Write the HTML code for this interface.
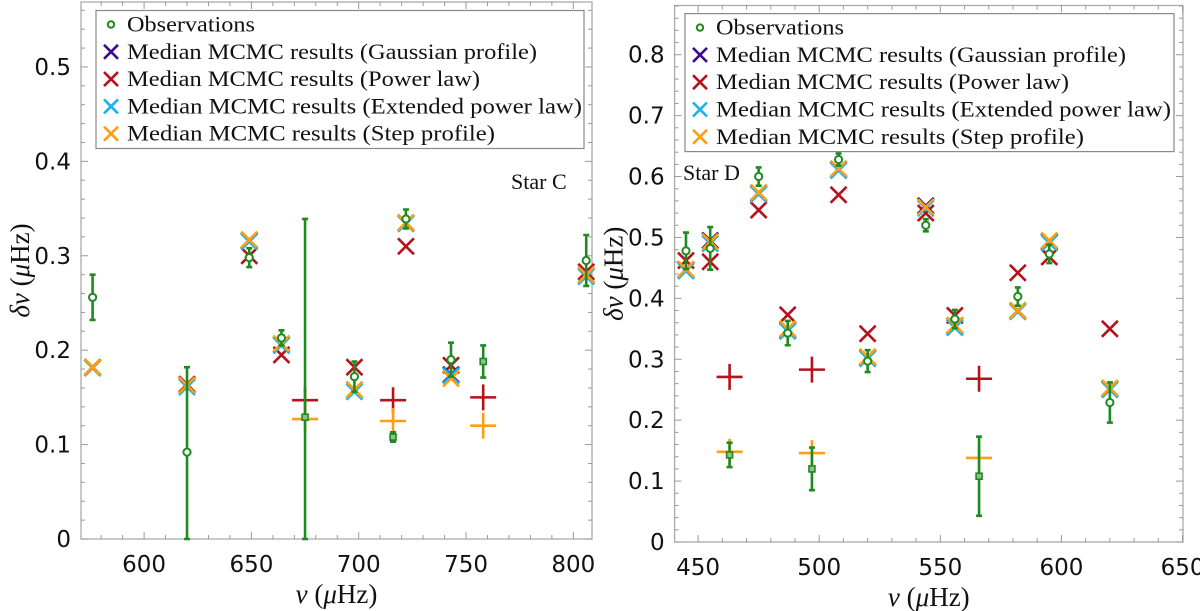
<!DOCTYPE html>
<html><head><meta charset="utf-8"><style>
body{margin:0;background:#fff;width:1200px;height:611px;overflow:hidden}
svg{display:block}
</style></head><body>
<svg id="fig" width="1200" height="611" xmlns="http://www.w3.org/2000/svg"></svg>
<script>
// ===== Star C data =====
const cObsCircX = [576, 620, 649, 664, 698, 722, 743, 806];
const cObsCircY = [0.256, 0.092, 0.298, 0.213, 0.172, 0.339, 0.190, 0.295];
const cObsCircLo = [0.232, 0.0, 0.288, 0.205, 0.156, 0.329, 0.172, 0.268];
const cObsCircHi = [0.280, 0.182, 0.308, 0.221, 0.188, 0.349, 0.208, 0.322];
const cObsSqX = [675, 716, 758];
const cObsSqY = [0.129, 0.108, 0.188];
const cObsSqLo = [0.0, 0.103, 0.171];
const cObsSqHi = [0.339, 0.113, 0.205];
const cXnu = [576, 620, 649, 664, 698, 722, 743, 806];
const cGauss = [0.182, 0.163, 0.316, 0.206, 0.158, 0.335, 0.174, 0.280];
const cPow = [0.182, 0.164, 0.300, 0.195, 0.182, 0.310, 0.184, 0.283];
const cExt = [0.181, 0.161, 0.315, 0.205, 0.156, 0.334, 0.173, 0.278];
const cStep = [0.182, 0.163, 0.317, 0.207, 0.158, 0.335, 0.170, 0.280];
const cPlusX = [675, 716, 758];
const cPlusPow = [0.147, 0.147, 0.150];
const cPlusStep = [0.127, 0.125, 0.120];
const cYTicks = [0, 0.1, 0.2, 0.3, 0.4, 0.5];
const cXTicks = [600, 650, 700, 750, 800];

// ===== Star D data =====
const dObsCircX = [445, 455, 475, 487, 508, 520, 544, 556, 582, 595, 620];
const dObsCircY = [0.478, 0.482, 0.600, 0.343, 0.628, 0.297, 0.520, 0.366, 0.403, 0.473, 0.229];
const dObsCircLo = [0.448, 0.447, 0.585, 0.323, 0.618, 0.279, 0.510, 0.351, 0.388, 0.458, 0.196];
const dObsCircHi = [0.508, 0.517, 0.615, 0.363, 0.638, 0.315, 0.530, 0.381, 0.418, 0.488, 0.262];
const dObsSqX = [463, 497, 566];
const dObsSqY = [0.143, 0.120, 0.108];
const dObsSqLo = [0.123, 0.085, 0.043];
const dObsSqHi = [0.163, 0.155, 0.173];
const dXnu = [445, 455, 475, 487, 508, 520, 544, 556, 582, 595, 620];
const dGauss = [0.447, 0.495, 0.573, 0.348, 0.612, 0.303, 0.552, 0.355, 0.380, 0.493, 0.252];
const dPow = [0.462, 0.460, 0.545, 0.373, 0.570, 0.342, 0.540, 0.372, 0.442, 0.468, 0.350];
const dExt = [0.445, 0.490, 0.571, 0.346, 0.610, 0.301, 0.548, 0.352, 0.378, 0.491, 0.250];
const dStep = [0.448, 0.493, 0.574, 0.350, 0.613, 0.304, 0.550, 0.356, 0.380, 0.495, 0.253];
const dPlusX = [463, 497, 566];
const dPlusPow = [0.271, 0.283, 0.268];
const dPlusStep = [0.148, 0.146, 0.138];
const dYTicks = [0, 0.1, 0.2, 0.3, 0.4, 0.5, 0.6, 0.7, 0.8];
const dXTicks = [450, 500, 550, 600, 650];

const legendLabels = ["Observations","Median MCMC results (Gaussian profile)","Median MCMC results (Power law)","Median MCMC results (Extended power law)","Median MCMC results (Step profile)"];
const COL = {obs:"#1f8a1f", gauss:"#3d0a91", pow:"#b5121b", ext:"#14b4f0", step:"#ff9f0f"};

const NS="http://www.w3.org/2000/svg";
const fig=document.getElementById('fig');
function mk(tag,attrs,parent){const e=document.createElementNS(NS,tag);for(const k in attrs)e.setAttribute(k,attrs[k]);(parent||fig).appendChild(e);return e;}

function panel(cfg){
  const g=mk('g',{});
  
  
  const X=v=>cfg.x0+(v-cfg.xmin)/(cfg.xmax-cfg.xmin)*(cfg.x1-cfg.x0);
  const Y=v=>cfg.yb+(v-cfg.ymin)/(cfg.ymax-cfg.ymin)*(cfg.yt-cfg.yb);
  const fr=mk('rect',{x:cfg.x0,y:cfg.yt,width:cfg.x1-cfg.x0,height:cfg.yb-cfg.yt,fill:'none',stroke:'#aaa','stroke-width':1.3},g);
  
  
  const ystep=cfg.yTicks[1]-cfg.yTicks[0];
  for(let v=cfg.ymin; v<=cfg.ymax+1e-9; v+=ystep/5){
    const maj=Math.abs(v/ystep-Math.round(v/ystep))<1e-6; const L=maj?7:4; const y=Y(v);
    mk('line',{x1:cfg.x0,x2:cfg.x0+L,y1:y,y2:y,stroke:'#999','stroke-width':1},g);
    mk('line',{x1:cfg.x1,x2:cfg.x1-L,y1:y,y2:y,stroke:'#999','stroke-width':1},g);
  }
  cfg.yTicks.forEach(v=>{const t=mk('text',{x:cfg.x0-10,y:Y(v)+8,'text-anchor':'end','font-family':'DejaVu Sans, Liberation Sans, sans-serif','font-size':23,fill:'#111'},g);t.textContent=String(v);
    
    });
  const xstep=cfg.xTicks[1]-cfg.xTicks[0];
  for(let v=Math.ceil(cfg.xmin/(xstep/5))*(xstep/5); v<=cfg.xmax; v+=xstep/5){
    const maj=Math.abs(v/xstep-Math.round(v/xstep))<1e-6; const L=maj?7:4; const x=X(v);
    mk('line',{x1:x,x2:x,y1:cfg.yb,y2:cfg.yb-L,stroke:'#999','stroke-width':1},g);
    mk('line',{x1:x,x2:x,y1:cfg.yt,y2:cfg.yt+L,stroke:'#999','stroke-width':1},g);
  }
  cfg.xTicks.forEach(v=>{const t=mk('text',{x:X(v),y:cfg.yb+33,'text-anchor':'middle','font-family':'DejaVu Sans, Liberation Sans, sans-serif','font-size':23,fill:'#111'},g);t.textContent=String(v);
    
    });
  const xt=mk('text',{x:(cfg.x0+cfg.x1)/2,y:cfg.yb+64,'text-anchor':'middle','font-family':'Liberation Serif, serif','font-size':27,fill:'#111'},g);
  xt.innerHTML='<tspan font-style="italic">ν</tspan> (<tspan font-style="italic">μ</tspan>Hz)';
  
  
  const yc=(cfg.yt+cfg.yb)/2;
  const yt=mk('text',{x:0,y:0,'text-anchor':'middle','font-family':'Liberation Serif, serif','font-size':27,fill:'#111',transform:`translate(${cfg.x0-52},${yc}) rotate(-90)`},g);
  yt.innerHTML='<tspan font-style="italic">δν</tspan> (<tspan font-style="italic">μ</tspan>Hz)';
  
  
  const sl=mk('text',{x:cfg.starX,y:cfg.starY,'font-family':'Liberation Serif, serif','font-size':22,fill:'#111'},g);
  sl.textContent=cfg.star;
  
  

  const cross=(x,y,c,nm)=>{const s=8;const p=mk('path',{d:`M${x-s},${y-s}L${x+s},${y+s}M${x-s},${y+s}L${x+s},${y-s}`,stroke:c,'stroke-width':2.6,fill:'none'},g);
    
    };
  const plus=(x,y,c,nm)=>{const s=13;const p=mk('path',{d:`M${x-s},${y}L${x+s},${y}M${x},${y-s}L${x},${y+s}`,stroke:c,'stroke-width':2.6,fill:'none'},g);
    
    };
  cfg.plusX.forEach((n,i)=>{plus(X(n),Y(cfg.plusPow[i]),COL.pow,'plus-power-law');plus(X(n),Y(cfg.plusStep[i]),COL.step,'plus-step-profile');});
  cfg.xnu.forEach((n,i)=>{
    cross(X(n),Y(cfg.pow[i]),COL.pow,'marker-power-law');
    cross(X(n),Y(cfg.gauss[i]),COL.gauss,'marker-gaussian');
    cross(X(n),Y(cfg.ext[i]),COL.ext,'marker-extended-power-law');
    cross(X(n),Y(cfg.step[i]),COL.step,'marker-step-profile');
  });
  const err=(x,lo,hi)=>{const yl=Y(lo),yh=Y(hi);
    const p=mk('path',{d:`M${x},${yl}L${x},${yh}M${x-3},${yl}L${x+3},${yl}M${x-3},${yh}L${x+3},${yh}`,stroke:COL.obs,'stroke-width':2.6,fill:'none'},g);
    
    };
  cfg.circX.forEach((n,i)=>{const x=X(n);err(x,cfg.circLo[i],cfg.circHi[i]);
    const c=mk('circle',{cx:x,cy:Y(cfg.circY[i]),r:3.6,fill:'#fff',stroke:COL.obs,'stroke-width':2},g);
    
    });
  cfg.sqX.forEach((n,i)=>{const x=X(n);err(x,cfg.sqLo[i],cfg.sqHi[i]);
    const r=mk('rect',{x:x-3,y:Y(cfg.sqY[i])-3,width:6,height:6,fill:'#8fc08f',stroke:COL.obs,'stroke-width':1.6},g);
    
    });
  const lg=mk('g',{},g);
  
  
  mk('rect',{x:cfg.lx,y:cfg.ly,width:cfg.lw,height:138,fill:'#fff',stroke:'#888','stroke-width':1.2},lg);
  const cols=[COL.obs,COL.gauss,COL.pow,COL.ext,COL.step];
  legendLabels.forEach((lab,i)=>{const cy=cfg.ly+14+i*27.3; const mx=cfg.lx+15;
    if(i===0){const c=mk('circle',{cx:mx,cy:cy,r:3.2,fill:'#fff',stroke:COL.obs,'stroke-width':2},lg);
      
      }
    else{const p=mk('path',{d:`M${mx-7},${cy-7}L${mx+7},${cy+7}M${mx-7},${cy+7}L${mx+7},${cy-7}`,stroke:cols[i],'stroke-width':2.6},lg);
      
      }
    const t=mk('text',{x:cfg.lx+31,y:cy+7,'font-family':'Liberation Serif, serif','font-size':22,fill:'#111'},lg);
    t.textContent=lab;
    const lens=[128,410,353,455,368];
    t.setAttribute('textLength',lens[i]);t.setAttribute('lengthAdjust','spacingAndGlyphs');
    
    
  });
}

panel({name:'star-c-chart',x0:81,x1:592,yt:2,yb:539,xmin:570.6,xmax:808.7,ymin:0,ymax:0.5688,
  yTicks:cYTicks,xTicks:cXTicks,star:'Star C',starX:511,starY:189,
  circX:cObsCircX,circY:cObsCircY,circLo:cObsCircLo,circHi:cObsCircHi,
  sqX:cObsSqX,sqY:cObsSqY,sqLo:cObsSqLo,sqHi:cObsSqHi,
  xnu:cXnu,gauss:cGauss,pow:cPow,ext:cExt,step:cStep,plusX:cPlusX,plusPow:cPlusPow,plusStep:cPlusStep,
  lx:96,ly:10.5,lw:488});
panel({name:'star-d-chart',x0:674.6,x1:1183,yt:5.5,yb:542,xmin:440.3,xmax:650.2,ymin:0,ymax:0.8808,
  yTicks:dYTicks,xTicks:dXTicks,star:'Star D',starX:683,starY:180,
  circX:dObsCircX,circY:dObsCircY,circLo:dObsCircLo,circHi:dObsCircHi,
  sqX:dObsSqX,sqY:dObsSqY,sqLo:dObsSqLo,sqHi:dObsSqHi,
  xnu:dXnu,gauss:dGauss,pow:dPow,ext:dExt,step:dStep,plusX:dPlusX,plusPow:dPlusPow,plusStep:dPlusStep,
  lx:685,ly:13.6,lw:489});
</script>
</body></html>
